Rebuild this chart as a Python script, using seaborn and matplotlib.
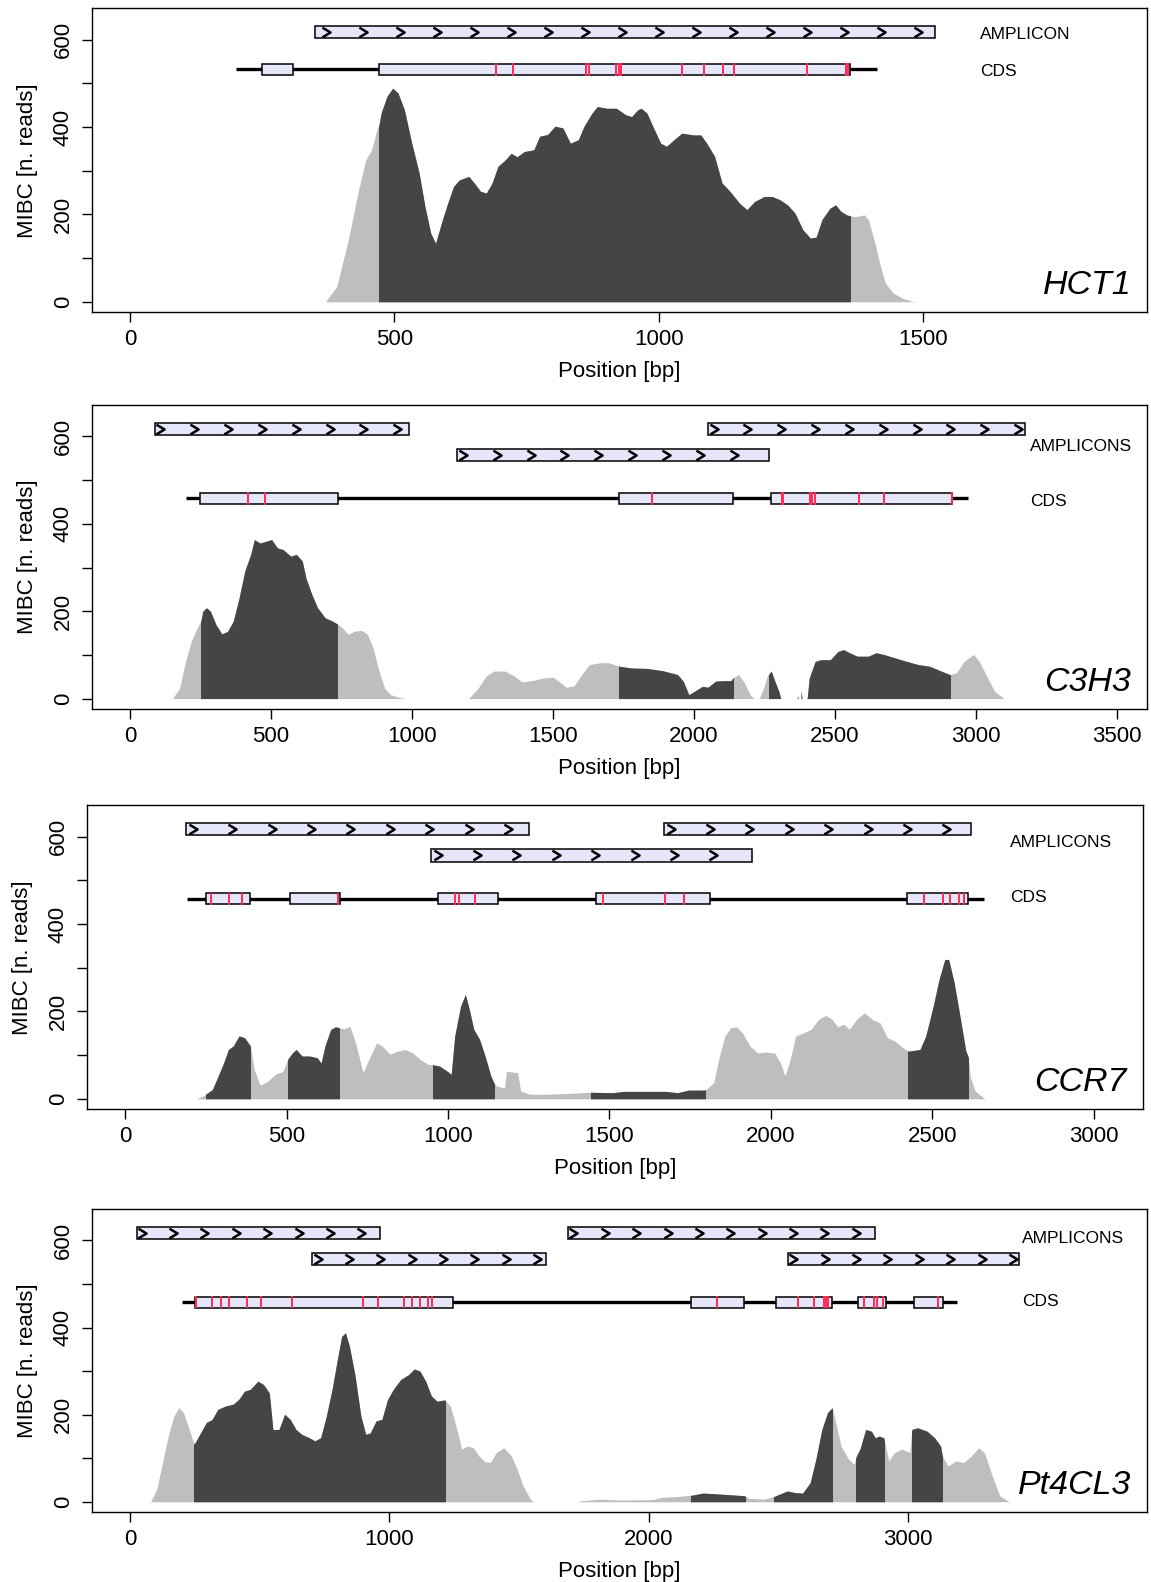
import numpy as np
import matplotlib
matplotlib.use("Agg")
import matplotlib.pyplot as plt
from matplotlib.patches import Rectangle
from matplotlib.path import Path
import seaborn as sns

# ---------------- data ----------------
# HCT1
HCT1_POS = [370, 391, 413, 431, 446, 457, 467, 471, 475, 486, 497, 507, 519, 533, 547, 558, 569, 578,
            591, 601, 612, 623, 641, 652, 663, 674, 685, 696, 710, 721, 732, 746, 764, 775, 790, 804,
            819, 833, 848, 859, 873, 884, 902, 920, 938, 949, 960, 967, 978, 989, 1004, 1015, 1029,
            1044, 1066, 1080, 1091, 1106, 1120, 1135, 1153, 1167, 1182, 1200, 1215, 1229, 1244, 1258,
            1273, 1287, 1298, 1309, 1324, 1335, 1345, 1356, 1362, 1371, 1382, 1389, 1397, 1404, 1411,
            1418, 1429, 1444, 1462, 1480, 1490]
HCT1_COV = [0, 35, 142, 249, 325, 348, 394, 405, 432, 470, 489, 478, 440, 363, 295, 218, 157, 134,
            188, 226, 264, 279, 287, 271, 253, 249, 272, 310, 325, 340, 332, 344, 348, 379, 383, 402,
            398, 363, 371, 402, 430, 447, 443, 443, 428, 424, 439, 443, 432, 402, 363, 356, 371,
            386, 382, 382, 363, 333, 272, 253, 226, 211, 230, 241, 241, 234, 222, 203,
            165, 146, 148, 188, 214, 222, 207, 199, 197, 195, 197, 199, 188, 157, 127,
            89, 43, 20, 8, 1, 0]
HCT1_DARK = [(471, 1362)]
HCT1_GENE = (200, 1414)
HCT1_EXONS = [(249, 308), (471, 1362)]
HCT1_SNPS = [692, 724, 862, 868, 919, 925, 929, 1045, 1085, 1122, 1142, 1280, 1354, 1358]
HCT1_AMP_START = [350]
HCT1_AMP_END = [1523]
HCT1_AMP_ROW = [0]

# C3H3
C3H3_POS = [150, 156, 176, 197, 217, 238, 251, 258, 271, 285, 305, 326, 346, 366, 387, 407, 428, 441,
            461, 482, 502, 523, 543, 570, 590, 611, 624, 645, 665, 692, 719, 735, 753, 774, 794, 821,
            842, 862, 883, 903, 923, 960, 975, 1200, 1208, 1235, 1262, 1290, 1330, 1364, 1391, 1425,
            1466, 1500, 1520, 1547, 1575, 1602, 1629, 1667, 1698, 1736, 1779, 1833, 1888, 1942, 1962,
            1982, 2003, 2030, 2050, 2077, 2104, 2131, 2138, 2159, 2179, 2199, 2213, 2230, 2233, 2247,
            2260, 2274, 2287, 2301, 2308, 2366, 2368, 2370, 2379, 2381, 2383, 2400, 2402, 2409, 2430,
            2450, 2484, 2511, 2531, 2552, 2579, 2619, 2646, 2673, 2714, 2755, 2795, 2836, 2877, 2908,
            2931, 2958, 2992, 3012, 3039, 3066, 3100]
C3H3_COV = [0, 5, 24, 85, 131, 162, 177, 200, 208, 200, 169, 148, 154, 177, 231, 292, 330, 364,
            356, 360, 364, 345, 341, 326, 330, 315, 276, 238, 208, 185, 177, 171, 162, 147, 154, 156,
            147, 116, 63, 24, 9, 2, 0, 0, 5, 24, 51, 63, 63, 51, 38, 41,
            47, 49, 40, 26, 29, 55, 78, 82, 82, 74, 70, 69, 64, 55, 40,
            9, 17, 28, 26, 40, 41, 41, 47, 55, 36, 9, 0, 0, 2, 24,
            51, 63, 40, 17, 0, 0, 6, 0, 0, 18, 0, 0, 2, 47, 85,
            89, 89, 108, 112, 105, 97, 97, 105, 101, 93, 85, 78, 74, 63, 55,
            59, 85, 101, 85, 51, 17, 0]
C3H3_DARK = [(250, 735), (1735, 2137), (2265, 2310), (2360, 2910)]
C3H3_GENE = (197, 2971)
C3H3_EXONS = [(247, 736), (1736, 2140), (2274, 2917)]
C3H3_SNPS = [418, 479, 1852, 2312, 2316, 2412, 2420, 2430, 2587, 2676, 2915]
C3H3_AMP_START = [88, 1161, 2050]
C3H3_AMP_END = [988, 2268, 3175]
C3H3_AMP_ROW = [0, 1, 0]

# CCR7
CCR7_POS = [222, 230, 246, 252, 270, 288, 305, 320, 335, 353, 370, 388, 400, 418, 441, 465, 489, 503,
            518, 530, 548, 572, 595, 607, 619, 637, 652, 662, 678, 696, 714, 737, 755, 779, 796, 820,
            844, 867, 891, 914, 938, 953, 974, 998, 1010, 1021, 1039, 1054, 1066, 1080, 1098, 1115,
            1133, 1142, 1151, 1175, 1181, 1216, 1225, 1246, 1270, 1364, 1442, 1509, 1545, 1675, 1711,
            1746, 1796, 1805, 1823, 1841, 1858, 1876, 1894, 1912, 1935, 1959, 1983, 2012, 2030, 2044,
            2060, 2077, 2101, 2125, 2148, 2170, 2190, 2207, 2226, 2243, 2266, 2290, 2314, 2338, 2361,
            2385, 2409, 2426, 2462, 2480, 2503, 2521, 2539, 2551, 2568, 2586, 2604, 2612, 2618, 2633,
            2663]
CCR7_COV = [0, 3, 8, 12, 21, 52, 82, 113, 121, 144, 140, 121, 67, 31, 40, 56, 63, 90,
            105, 113, 98, 98, 94, 82, 121, 159, 165, 163, 160, 166, 128, 60, 90, 128, 121, 102,
            109, 113, 105, 90, 79, 78, 75, 63, 56, 144, 212, 239, 205, 159, 136, 98,
            52, 37, 29, 25, 63, 60, 18, 12, 10, 12, 15, 14, 17, 17, 14,
            20, 20, 25, 37, 98, 144, 163, 165, 151, 121, 105, 107, 105, 82, 52,
            90, 144, 151, 159, 182, 191, 182, 165, 171, 159, 182, 197, 182, 174, 140,
            132, 117, 109, 113, 144, 212, 273, 319, 319, 266, 189, 110, 95, 50, 18,
            0]
CCR7_DARK = [(250, 388), (503, 662), (953, 1142), (1442, 1796), (2426, 2612)]
CCR7_GENE = (193, 2660)
CCR7_EXONS = [(252, 388), (510, 666), (969, 1155), (1460, 1811), (2423, 2610)]
CCR7_SNPS = [265, 321, 362, 659, 1022, 1035, 1083, 1480, 1671, 1732, 2474, 2533, 2556, 2584, 2597]
CCR7_AMP_START = [190, 948, 1670]
CCR7_AMP_END = [1252, 1941, 2619]
CCR7_AMP_ROW = [0, 1, 0]

# Pt4CL3
PT4CL3_POS = [78, 81, 103, 125, 147, 169, 188, 206, 228, 247, 265, 294, 316, 338, 368, 397, 419, 441,
              463, 493, 515, 537, 551, 574, 596, 618, 640, 662, 691, 713, 735, 757, 779, 797, 816,
              831, 846, 868, 890, 909, 926, 949, 971, 993, 1015, 1044, 1074, 1096, 1118, 1140, 1162,
              1184, 1213, 1235, 1257, 1279, 1301, 1324, 1346, 1368, 1390, 1412, 1441, 1471, 1493,
              1515, 1544, 1556, 1725, 1734, 1811, 1885, 2018, 2047, 2106, 2165, 2210, 2269, 2369,
              2387, 2446, 2483, 2535, 2564, 2594, 2623, 2645, 2668, 2690, 2708, 2719, 2742, 2771,
              2793, 2801, 2815, 2837, 2859, 2874, 2889, 2907, 2926, 2948, 2978, 3007, 3015, 3037,
              3074, 3103, 3126, 3133, 3155, 3185, 3214, 3244, 3273, 3295, 3325, 3354, 3391]
PT4CL3_COV = [0, 2, 29, 90, 151, 197, 216, 205, 166, 132, 151, 182, 189, 212, 220, 224, 235, 254,
              258, 277, 269, 250, 166, 166, 201, 189, 166, 155, 147, 140, 147, 197, 258, 319, 380,
              388, 357, 289, 197, 155, 158, 186, 189, 235, 258, 281, 292, 305, 300, 277, 243,
              231, 234, 220, 174, 121, 128, 124, 105, 92, 90, 113, 124, 105, 75,
              37, 6, 0, 0, 2, 6, 4, 5, 10, 12, 15, 20, 18, 14,
              8, 6, 12, 25, 21, 20, 44, 98, 166, 205, 216, 189, 128, 98,
              86, 105, 121, 166, 162, 147, 151, 147, 94, 113, 121, 113, 166, 170,
              162, 147, 128, 105, 82, 94, 90, 105, 124, 113, 60, 14, 0]
PT4CL3_DARK = [(247, 1213), (2165, 2370), (2483, 2709), (2801, 2907), (3015, 3133)]
PT4CL3_GENE = (199, 3189)
PT4CL3_EXONS = [(250, 1246), (2165, 2368), (2493, 2708), (2809, 2914), (3025, 3137)]
PT4CL3_SNPS = [255, 316, 350, 380, 451, 505, 625, 898, 958, 1056, 1087, 1120, 1150, 1163,
               2265, 2576, 2637, 2675, 2684, 2691, 2830, 2871, 2880, 2905, 3117]
PT4CL3_AMP_START = [25, 703, 1690, 2538]
PT4CL3_AMP_END = [964, 1605, 2874, 3428]
PT4CL3_AMP_ROW = [0, 1, 0, 1]

# ---------------- styling / layout ----------------
LIGHT = "#BEBEBE"
DARK = "#454545"
LAV = "#E6E6FA"
RED = "#FF2A55"
AMP_ROW_Y = [617, 557]

sns.set_theme(style="ticks")
plt.rcParams["font.family"] = ["Liberation Sans", "DejaVu Sans"]
plt.rcParams.update({
    "axes.edgecolor": "black", "axes.linewidth": 1.0,
    "xtick.color": "black", "ytick.color": "black",
    "text.color": "black", "axes.labelcolor": "black",
})

CHEVRON = Path([(-0.5, 0.6), (0.5, 0.0), (-0.5, -0.6)],
               [Path.MOVETO, Path.LINETO, Path.LINETO])

panels = [
    dict(name="HCT1", pos=HCT1_POS, cov=HCT1_COV, dark=HCT1_DARK, gene=HCT1_GENE, exons=HCT1_EXONS,
         snps=HCT1_SNPS, amp=(HCT1_AMP_START, HCT1_AMP_END, HCT1_AMP_ROW), amp_label="AMPLICON",
         rect=[0.0799, 0.8026, 0.9166, 0.1922], xlim=(-72, 1924), step=500,
         cds_y=532, lab_x=1608, amp_lab_y=611, cds_lab_y=527, chev=70),
    dict(name="C3H3", pos=C3H3_POS, cov=C3H3_COV, dark=C3H3_DARK, gene=C3H3_GENE, exons=C3H3_EXONS,
         snps=C3H3_SNPS, amp=(C3H3_AMP_START, C3H3_AMP_END, C3H3_AMP_ROW), amp_label="AMPLICONS",
         rect=[0.0799, 0.5518, 0.9166, 0.1922], xlim=(-135, 3607), step=500,
         cds_y=458, lab_x=3192, amp_lab_y=578, cds_lab_y=452, chev=120),
    dict(name="CCR7", pos=CCR7_POS, cov=CCR7_COV, dark=CCR7_DARK, gene=CCR7_GENE, exons=CCR7_EXONS,
         snps=CCR7_SNPS, amp=(CCR7_AMP_START, CCR7_AMP_END, CCR7_AMP_ROW), amp_label="AMPLICONS",
         rect=[0.0756, 0.2988, 0.9172, 0.1922], xlim=(-118, 3152), step=500,
         cds_y=458, lab_x=2742, amp_lab_y=586, cds_lab_y=460, chev=122),
    dict(name="Pt4CL3", pos=PT4CL3_POS, cov=PT4CL3_COV, dark=PT4CL3_DARK, gene=PT4CL3_GENE,
         exons=PT4CL3_EXONS, snps=PT4CL3_SNPS,
         amp=(PT4CL3_AMP_START, PT4CL3_AMP_END, PT4CL3_AMP_ROW), amp_label="AMPLICONS",
         rect=[0.0799, 0.0441, 0.9166, 0.1916], xlim=(-147, 3922), step=1000,
         cds_y=458, lab_x=3440, amp_lab_y=604, cds_lab_y=459, chev=121),
]

fig = plt.figure(figsize=(11.51, 15.82), dpi=100)

for p in panels:
    ax = fig.add_axes(p["rect"])
    x = np.asarray(p["pos"], dtype=float)
    y = np.asarray(p["cov"], dtype=float)

    # coverage profile: light everywhere, dark inside covered CDS spans
    ax.fill_between(x, 0, y, color=LIGHT, lw=0, zorder=1)
    for s, e in p["dark"]:
        poly = ax.fill_between(x, 0, y, color=DARK, lw=0, zorder=2)
        poly.set_clip_path(Rectangle((s, -100), e - s, 1000, transform=ax.transData))

    # amplicons
    for s, e, r in zip(*p["amp"]):
        yc = AMP_ROW_Y[r]
        ax.add_patch(Rectangle((s, yc - 14), e - s, 28, fc=LAV, ec="black", lw=1.1, zorder=3))
        cx = np.arange(s + 20, e - 12, p["chev"])
        ax.plot(cx, np.full(len(cx), yc), ls="none", marker=CHEVRON, ms=7,
                mec="black", mfc="none", mew=1.8, zorder=4)

    # CDS track
    cy = p["cds_y"]
    ax.plot(p["gene"], [cy, cy], color="black", lw=2.4, solid_capstyle="butt", zorder=3)
    for s, e in p["exons"]:
        ax.add_patch(Rectangle((s, cy - 12), e - s, 24, fc=LAV, ec="black", lw=1.1, zorder=4))
    ax.vlines(p["snps"], cy - 14, cy + 14, color=RED, lw=1.4, zorder=5)

    ax.text(p["lab_x"], p["amp_lab_y"], p["amp_label"], fontsize=12.5, ha="left", va="center")
    ax.text(p["lab_x"], p["cds_lab_y"], "CDS", fontsize=12.5, ha="left", va="center")
    ax.text(0.985, 0.06, p["name"], transform=ax.transAxes, ha="right", va="baseline",
            fontsize=24.5, style="italic")

    ax.set_xlim(*p["xlim"])
    ax.set_ylim(-24, 672)
    ax.set_xticks(np.arange(0, p["xlim"][1], p["step"]))
    ax.set_yticks(np.arange(0, 700, 100))
    ax.set_yticklabels([str(v) if v % 200 == 0 else "" for v in range(0, 700, 100)],
                       rotation=90, va="center")
    ax.tick_params(axis="both", direction="out", length=7, width=1.0, labelsize=16)
    ax.tick_params(axis="x", pad=5)
    ax.tick_params(axis="y", pad=6)
    ax.set_xlabel("Position [bp]", fontsize=16, labelpad=8)
    ax.set_ylabel("MIBC [n. reads]", fontsize=16, labelpad=11)
    for sp in ax.spines.values():
        sp.set_visible(True)
        sp.set_linewidth(1.0)
    ax.grid(False)

fig.savefig("out.png", dpi=100)
